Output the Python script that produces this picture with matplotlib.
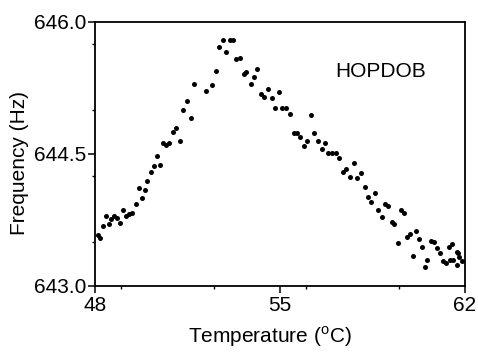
import matplotlib
matplotlib.use("Agg")
import matplotlib.pyplot as plt
from matplotlib.ticker import MultipleLocator

plt.rcParams['font.family'] = ['Liberation Sans', 'DejaVu Sans']

temperature = [48.10, 48.18, 48.30, 48.43, 48.52, 48.62, 48.73, 48.83, 48.93, 49.06,
               49.16, 49.29, 49.41, 49.54, 49.65, 49.77, 49.88, 49.98, 50.11, 50.22,
               50.35, 50.47, 50.58, 50.70, 50.81, 50.95, 51.05, 51.22, 51.33, 51.48,
               51.62, 51.75, 52.21, 52.44, 52.58, 52.70, 52.83, 52.96, 53.11, 53.24,
               53.33, 53.47, 53.62, 53.72, 53.89, 54.02, 54.14, 54.27, 54.38, 54.55,
               54.70, 54.82, 54.95, 55.09, 55.24, 55.37, 55.53, 55.63, 55.77, 55.91,
               56.03, 56.17, 56.30, 56.44, 56.58, 56.71, 56.83, 56.97, 57.10, 57.24,
               57.38, 57.51, 57.66, 57.80, 57.93, 58.06, 58.20, 58.34, 58.46, 58.58,
               58.72, 58.85, 58.97, 59.10, 59.23, 59.32, 59.46, 59.57, 59.68, 59.80,
               59.91, 60.04, 60.16, 60.25, 60.37, 60.49, 60.56, 60.72, 60.82, 60.93,
               61.04, 61.18, 61.28, 61.40, 61.50, 61.43, 61.56, 61.69, 61.75, 61.78,
               61.71, 61.89]
frequency = [643.58, 643.55, 643.68, 643.79, 643.70, 643.76, 643.80, 643.77, 643.72, 643.86,
             643.80, 643.82, 643.83, 643.93, 644.11, 644.00, 644.09, 644.19, 644.29, 644.36,
             644.48, 644.38, 644.63, 644.60, 644.63, 644.75, 644.80, 644.65, 645.00, 645.10,
             644.91, 645.29, 645.22, 645.28, 645.44, 645.72, 645.80, 645.66, 645.80, 645.80,
             645.58, 645.59, 645.41, 645.43, 645.30, 645.37, 645.47, 645.18, 645.15, 645.24,
             645.14, 645.02, 645.21, 645.02, 645.02, 644.95, 644.74, 644.74, 644.69, 644.59,
             644.65, 644.94, 644.74, 644.65, 644.56, 644.62, 644.51, 644.51, 644.51, 644.45,
             644.30, 644.33, 644.24, 644.40, 644.23, 644.28, 644.13, 644.01, 643.95, 644.06,
             643.86, 643.78, 643.93, 643.91, 643.73, 643.71, 643.49, 643.86, 643.83, 643.56,
             643.59, 643.34, 643.62, 643.53, 643.44, 643.22, 643.30, 643.51, 643.50, 643.43,
             643.37, 643.28, 643.26, 643.44, 643.48, 643.30, 643.30, 643.39, 643.37, 643.33,
             643.24, 643.28]

x_ticks = [48, 55, 62]
y_ticks = [643.0, 644.5, 646.0]
sample_label = "HOPDOB"

fig = plt.figure(figsize=(4.78, 3.54), dpi=100)
ax = fig.add_axes([95/478, 1-286/354, 370/478, 264/354])

ax.plot(temperature, frequency, 'o', color='black', ms=3.6, mec='black', mew=0)

ax.set_xlim(48, 62)
ax.set_ylim(643.0, 646.0)
ax.set_xticks(x_ticks)
ax.set_xticklabels([str(t) for t in x_ticks])
ax.set_yticks(y_ticks)
ax.set_yticklabels([f"{v:.1f}" for v in y_ticks])
ax.xaxis.set_minor_locator(MultipleLocator(3.5))
ax.yaxis.set_minor_locator(MultipleLocator(0.75))

ax.tick_params(which='major', direction='out', length=5, width=1.1, labelsize=15, pad=1.0,
               top=False, right=False)
ax.tick_params(axis='x', which='major', pad=2.5)
ax.tick_params(which='minor', direction='out', length=2.5, width=1.0, top=False, right=False)

for s in ax.spines.values():
    s.set_linewidth(1.3)

ax.set_xlabel(r'Temperature ($^\mathregular{o}$C)', fontsize=15, va='center')
ax.xaxis.set_label_coords(0.473, -0.193)
ax.set_ylabel('Frequency (Hz)', fontsize=15, va='center', ha='center')
ax.yaxis.set_label_coords(-0.203, 0.466)

ax.text(0.649, 0.8125, sample_label, transform=ax.transAxes, fontsize=15,
        ha='left', va='center')

fig.savefig('out.png', dpi=100)
